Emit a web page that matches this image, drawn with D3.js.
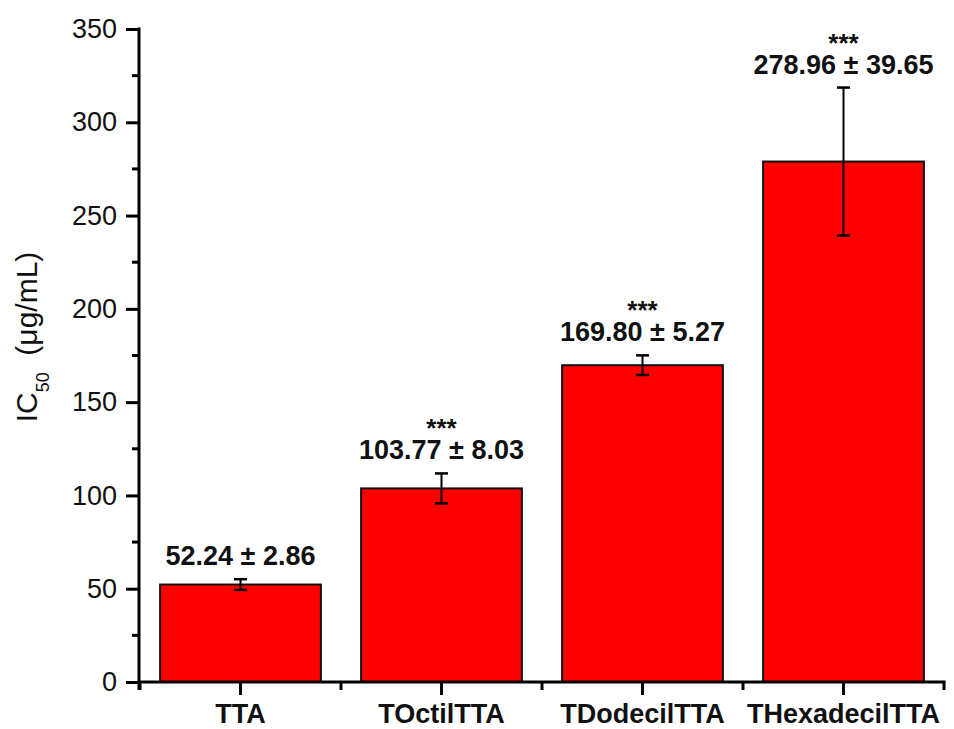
<!DOCTYPE html>
<html>
<head>
<meta charset="utf-8">
<script src="https://cdn.jsdelivr.net/npm/d3@7"></script>
<style>
  html, body { margin: 0; padding: 0; background: #fff; }
  svg { display: block; font-family: "Liberation Sans", Arial, sans-serif; }
</style>
</head>
<body>
<svg id="chart" width="954" height="729"></svg>
<script>
// IC50 values (µg/mL) with standard deviations
const compounds = ["TTA", "TOctilTTA", "TDodecilTTA", "THexadecilTTA"];
const ic50 = [52.24, 103.77, 169.80, 278.96];
const sd = [2.86, 8.03, 5.27, 39.65];
const significance = ["", "***", "***", "***"];
const yTicks = [0, 50, 100, 150, 200, 250, 300, 350];
const yMinorTicks = [25, 75, 125, 175, 225, 275, 325];

const svg = d3.select("#chart");
const plot = { left: 140, right: 944, top: 29, bottom: 682 };

const x = d3.scaleBand()
  .domain(compounds)
  .range([plot.left, plot.right])
  .paddingInner(0.2)
  .paddingOuter(0.1);

const y = d3.scaleLinear()
  .domain([0, 350])
  .range([plot.bottom, plot.top]);

// Bars
svg.append("g")
  .selectAll("rect")
  .data(compounds)
  .join("rect")
  .attr("x", d => x(d))
  .attr("y", (d, i) => y(ic50[i]))
  .attr("width", x.bandwidth())
  .attr("height", (d, i) => y(0) - y(ic50[i]))
  .attr("fill", "#ff0000")
  .attr("stroke", "#111")
  .attr("stroke-width", 2);

// Error bars
const err = svg.append("g").attr("stroke", "#000");
compounds.forEach((c, i) => {
  const cx = x(c) + x.bandwidth() / 2;
  const top = y(ic50[i] + sd[i]);
  const bot = y(ic50[i] - sd[i]);
  err.append("line").attr("x1", cx).attr("x2", cx).attr("y1", top).attr("y2", bot).attr("stroke-width", 2);
  [top, bot].forEach(v => {
    err.append("line").attr("x1", cx - 6.5).attr("x2", cx + 6.5).attr("y1", v).attr("y2", v).attr("stroke-width", 2.5);
  });
});

// Value labels, with the significance mark on the line above
const labels = svg.append("g")
  .attr("text-anchor", "middle")
  .attr("font-weight", "bold")
  .attr("font-size", 27)
  .attr("fill", "#111");
compounds.forEach((c, i) => {
  const cx = x(c) + x.bandwidth() / 2;
  const base = y(ic50[i] + sd[i]) - 14;
  const t = labels.append("text").attr("x", cx).attr("y", significance[i] ? base - 22 : base);
  if (significance[i]) {
    t.append("tspan").attr("x", cx).attr("font-size", 26).text(significance[i]);
    t.append("tspan").attr("x", cx).attr("dy", 22).text(`${ic50[i].toFixed(2)} ± ${sd[i].toFixed(2)}`);
  } else {
    t.text(`${ic50[i].toFixed(2)} ± ${sd[i].toFixed(2)}`);
  }
});

// Y axis
const yAxis = svg.append("g").attr("transform", `translate(${plot.left - 1},0)`);
yAxis.call(d3.axisLeft(y).tickValues(yTicks).tickSize(13).tickPadding(9).tickSizeOuter(0));
yAxis.selectAll(".tick line").attr("stroke", "#000").attr("stroke-width", 3);
yAxis.selectAll(".tick text")
  .attr("font-size", 27)
  .attr("font-family", "Liberation Sans, Arial, sans-serif")
  .attr("fill", "#111");
yAxis.select(".domain").remove();
yAxis.append("line")
  .attr("x1", 0).attr("x2", 0)
  .attr("y1", plot.top - 1.5).attr("y2", plot.bottom + 8)
  .attr("stroke", "#000").attr("stroke-width", 3);
yAxis.selectAll(".minor")
  .data(yMinorTicks)
  .join("line")
  .attr("x1", -7).attr("x2", 0)
  .attr("y1", d => y(d)).attr("y2", d => y(d))
  .attr("stroke", "#000").attr("stroke-width", 3);

// X axis
const xAxis = svg.append("g").attr("transform", `translate(0,${plot.bottom})`);
xAxis.call(d3.axisBottom(x).tickSize(13).tickPadding(9).tickSizeOuter(0));
xAxis.selectAll(".tick line").attr("stroke", "#000").attr("stroke-width", 3);
xAxis.selectAll(".tick text")
  .attr("font-size", 27)
  .attr("font-weight", "bold")
  .attr("font-family", "Liberation Sans, Arial, sans-serif")
  .attr("fill", "#111");
xAxis.select(".domain").remove();
xAxis.append("line")
  .attr("x1", plot.left - 2.5).attr("x2", plot.right + 1.5)
  .attr("y1", 0).attr("y2", 0)
  .attr("stroke", "#000").attr("stroke-width", 3);
// Minor ticks on band boundaries
const bounds = compounds.map(c => x(c) - x.step() * x.paddingInner() / 2)
  .concat([plot.right]);
xAxis.selectAll(".minor")
  .data(bounds)
  .join("line")
  .attr("x1", d => d).attr("x2", d => d)
  .attr("y1", 0).attr("y2", 8)
  .attr("stroke", "#000").attr("stroke-width", 3);

// Y axis title
const title = svg.append("text")
  .attr("transform", `translate(37,337) rotate(-90)`)
  .attr("text-anchor", "middle")
  .attr("font-size", 30)
  .attr("fill", "#111");
title.append("tspan").text("IC");
title.append("tspan").attr("font-size", 18).attr("dy", 12).text("50");
title.append("tspan").attr("dy", -12).text("\u00a0 (\u03bcg/mL)");
</script>
</body>
</html>
